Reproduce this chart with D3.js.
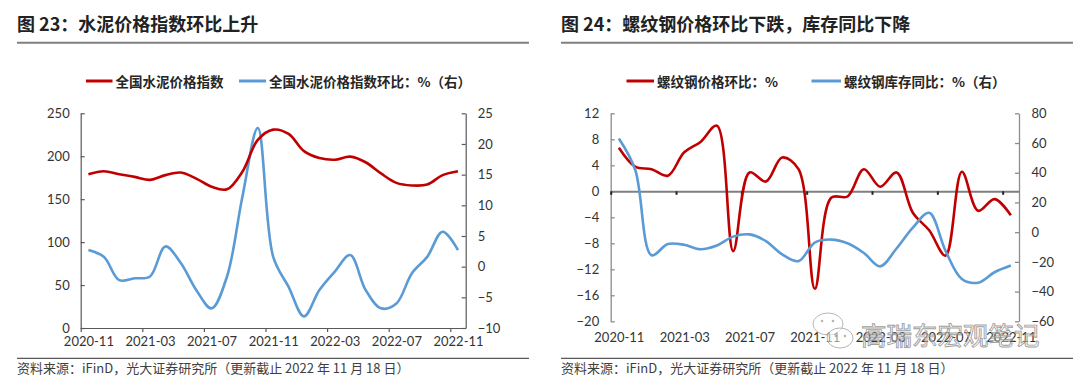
<!DOCTYPE html>
<html><head><meta charset="utf-8">
<script src="https://cdn.jsdelivr.net/npm/d3@7/dist/d3.min.js"></script>
<style>
body{margin:0;background:#fff;}
svg{display:block;}
.tick text{font-family:Lato,"Noto Sans CJK SC",sans-serif;font-size:13px;fill:#333;}
</style></head>
<body>
<script>
// ---------- data ----------
const months = ["2020-11","2020-12","2021-01","2021-02","2021-03","2021-04","2021-05","2021-06","2021-07","2021-08","2021-09","2021-10","2021-11","2021-12","2022-01","2022-02","2022-03","2022-04","2022-05","2022-06","2022-07","2022-08","2022-09","2022-10","2022-11"];
const labelMonths = ["2020-11","2021-03","2021-07","2021-11","2022-03","2022-07","2022-11"];

// Chart 23
const cementIndex = [179,182.5,179,176,172.5,178,181,174,164.5,161.5,182,219,231,226,206,198,196,199.5,193,180,169,166,167,178,182.5];
const cementMoM = [2.7,1.6,-2.2,-1.9,-1.6,3.3,0.6,-3.8,-6.8,-1.6,11.4,22.6,1.6,-3.3,-8.1,-3.8,-0.8,1.9,-3.8,-6.8,-6.0,-1.1,1.6,5.7,2.7];
const leftTicks23 = [0,50,100,150,200,250];
const rightTicks23 = [-10,-5,0,5,10,15,20,25];

// Chart 24
const rebarMoM = [6.7,3.8,3.4,2.4,6.0,7.6,10.1,-9.2,2.9,1.5,5.2,3.4,-15.0,-1.0,-0.8,3.4,0.7,2.9,-3.3,-6.0,-9.9,3.0,-3.0,-1.2,-3.7];
const rebarInvYoY = [63,42,-15.5,-8,-8.5,-11.5,-9,-3,-1.5,-6,-15,-19.5,-7,-5,-7.5,-14,-23,-11,3,13,-12.5,-31.5,-34,-27,-22.5];
const leftTicks24 = [-20,-16,-12,-8,-4,0,4,8,12];
const rightTicks24 = [-60,-40,-20,0,20,40,60,80];

const titles = ["图 23：水泥价格指数环比上升","图 24：螺纹钢价格环比下跌，库存同比下降"];
const legends = [["全国水泥价格指数","全国水泥价格指数环比：%（右）"],["螺纹钢价格环比：%","螺纹钢库存同比：%（右）"]];
const sourceText = "资料来源：iFinD，光大证券研究所（更新截止 2022 年 11 月 18 日）";

// ---------- drawing ----------
const RED = "#C00000", BLUE = "#5B9BD5";
const svg = d3.select("body").append("svg").attr("width",1080).attr("height",382);
const cjk = '"Noto Sans CJK SC","Noto Sans",sans-serif';

function header(x0, x1, title, leg, legPos){
  svg.append("text").attr("x",x0).attr("y",23).attr("dominant-baseline","central")
    .attr("font-family",cjk).attr("font-size",18).attr("font-weight",700).attr("fill","#222").text(title);
  svg.append("line").attr("x1",x0).attr("x2",x1).attr("y1",42.7).attr("y2",42.7)
    .attr("stroke","#7f7f7f").attr("stroke-width",2);
  const cols=[RED,BLUE];
  leg.forEach((t,i)=>{
    const p=legPos[i];
    svg.append("line").attr("x1",p[0]).attr("x2",p[1]).attr("y1",81).attr("y2",81)
      .attr("stroke",cols[i]).attr("stroke-width",3);
    svg.append("text").attr("x",p[1]+3).attr("y",81).attr("dominant-baseline","central")
      .attr("font-family",cjk).attr("font-size",13.5).attr("font-weight",700).attr("fill","#262626").text(t);
  });
  svg.append("line").attr("x1",x0).attr("x2",x1).attr("y1",358.3).attr("y2",358.3)
    .attr("stroke","#595959").attr("stroke-width",1.3);
  svg.append("text").attr("x",x0).attr("y",367.7).attr("dominant-baseline","central")
    .attr("font-family",cjk).attr("font-size",13).attr("fill","#404040").text(sourceText);
}

header(17,529,titles[0],legends[0],[[86,112.5],[239,266]]);
header(561,1073,titles[1],legends[1],[[626.5,654],[811.5,841]]);

function styleAxis(g,color,w){
  g.selectAll(".domain").attr("stroke",color).attr("stroke-width",w);
  g.selectAll(".tick line").attr("stroke",color).attr("stroke-width",w);
}
const ticksIdx = labelMonths.map(m=>months.indexOf(m));

// ---- Chart 23 ----
(function(){
  const L=80.7,R=465.7,T=113.3,B=328;
  const x=d3.scaleLinear().domain([0,months.length]).range([L,R]);
  const yL=d3.scaleLinear().domain([0,250]).range([B,T]);
  const yR=d3.scaleLinear().domain([-10,25]).range([B,T]);
  const col="#595959";
  let g=svg.append("g").attr("transform",`translate(${L},0)`)
    .call(d3.axisLeft(yL).tickValues(leftTicks23).tickSizeInner(-4).tickSizeOuter(0).tickPadding(11));
  styleAxis(g,col,1.2);
  g=svg.append("g").attr("transform",`translate(${R},0)`)
    .call(d3.axisRight(yR).tickValues(rightTicks23).tickSizeInner(-4).tickSizeOuter(0).tickPadding(12));
  styleAxis(g,col,1.2);
  g=svg.append("g").attr("transform",`translate(0,${B})`)
    .call(d3.axisBottom(x).tickValues(ticksIdx).tickSizeInner(4).tickSizeOuter(0).tickFormat(""));
  styleAxis(g,col,1.2);
  g=svg.append("g").attr("transform",`translate(0,${B})`)
    .call(d3.axisBottom(x).tickValues(ticksIdx.map(i=>i+0.5)).tickSize(0).tickPadding(9)
      .tickFormat(d=>months[d-0.5]));
  g.select(".domain").remove();

  const lineL=d3.line().x((d,i)=>x(i+0.5)).y(d=>yL(d)).curve(d3.curveCatmullRom.alpha(0.5));
  const lineR=d3.line().x((d,i)=>x(i+0.5)).y(d=>yR(d)).curve(d3.curveCatmullRom.alpha(0.5));
  svg.append("path").datum(cementMoM).attr("d",lineR).attr("fill","none").attr("stroke",BLUE).attr("stroke-width",2.6);
  svg.append("path").datum(cementIndex).attr("d",lineL).attr("fill","none").attr("stroke",RED).attr("stroke-width",2.6);
})();

// ---- Chart 24 ----
(function(){
  const L=610.7,R=1019,T=113.3,B=321.3;
  const x=d3.scaleLinear().domain([0,months.length]).range([L,R]);
  const yL=d3.scaleLinear().domain([-20,12]).range([B,T]);
  const yR=d3.scaleLinear().domain([-60,80]).range([B,T]);
  const col="#8c8c8c";
  let g=svg.append("g").attr("transform",`translate(${L},0)`)
    .call(d3.axisLeft(yL).tickValues(leftTicks24).tickSizeInner(-4).tickSizeOuter(0).tickPadding(11.5));
  styleAxis(g,col,1.3);
  g=svg.append("g").attr("transform",`translate(${R},0)`)
    .call(d3.axisRight(yR).tickValues(rightTicks24).tickSizeInner(-4).tickSizeOuter(0).tickPadding(12.5));
  styleAxis(g,col,1.3);
  g=svg.append("g").attr("transform",`translate(0,${yL(0)})`)
    .call(d3.axisBottom(x).tickValues(ticksIdx).tickSizeInner(3.5).tickSizeOuter(0).tickFormat(""));
  styleAxis(g,"#7f7f7f",2);
  g.selectAll(".tick line").attr("stroke","#222").attr("stroke-width",2);
  g=svg.append("g").attr("transform",`translate(0,${B})`)
    .call(d3.axisBottom(x).tickValues(ticksIdx.map(i=>i+0.5)).tickSize(0).tickPadding(11)
      .tickFormat(d=>months[d-0.5]));
  g.select(".domain").remove();

  const lineL=d3.line().x((d,i)=>x(i+0.5)).y(d=>yL(d)).curve(d3.curveCatmullRom.alpha(0.5));
  const lineR=d3.line().x((d,i)=>x(i+0.5)).y(d=>yR(d)).curve(d3.curveCatmullRom.alpha(0.5));
  svg.append("path").datum(rebarMoM).attr("d",lineL).attr("fill","none").attr("stroke",RED).attr("stroke-width",2.6);
  svg.append("path").datum(rebarInvYoY).attr("d",lineR).attr("fill","none").attr("stroke",BLUE).attr("stroke-width",2.6);

  // watermark
  const wm=svg.append("g").attr("opacity",0.85);
  wm.append("ellipse").attr("cx",828).attr("cy",324).attr("rx",15).attr("ry",11)
    .attr("fill","rgba(255,255,255,0.5)").attr("stroke","#aaa").attr("stroke-width",1);
  wm.append("ellipse").attr("cx",840).attr("cy",338).attr("rx",13).attr("ry",10)
    .attr("fill","rgba(255,255,255,0.6)").attr("stroke","#aaa").attr("stroke-width",1);
  [[822,321],[833,321],[836,336],[845,336]].forEach(p=>
    wm.append("circle").attr("cx",p[0]).attr("cy",p[1]).attr("r",1.3).attr("fill","#aaa"));
  wm.append("text").attr("x",861).attr("y",333).attr("dominant-baseline","central")
    .attr("font-family",cjk).attr("font-size",25.5).attr("fill","rgba(255,255,255,0.55)")
    .attr("stroke","#8f8f8f").attr("stroke-width",0.9).text("高瑞东宏观笔记");
})();
</script>
</body></html>
